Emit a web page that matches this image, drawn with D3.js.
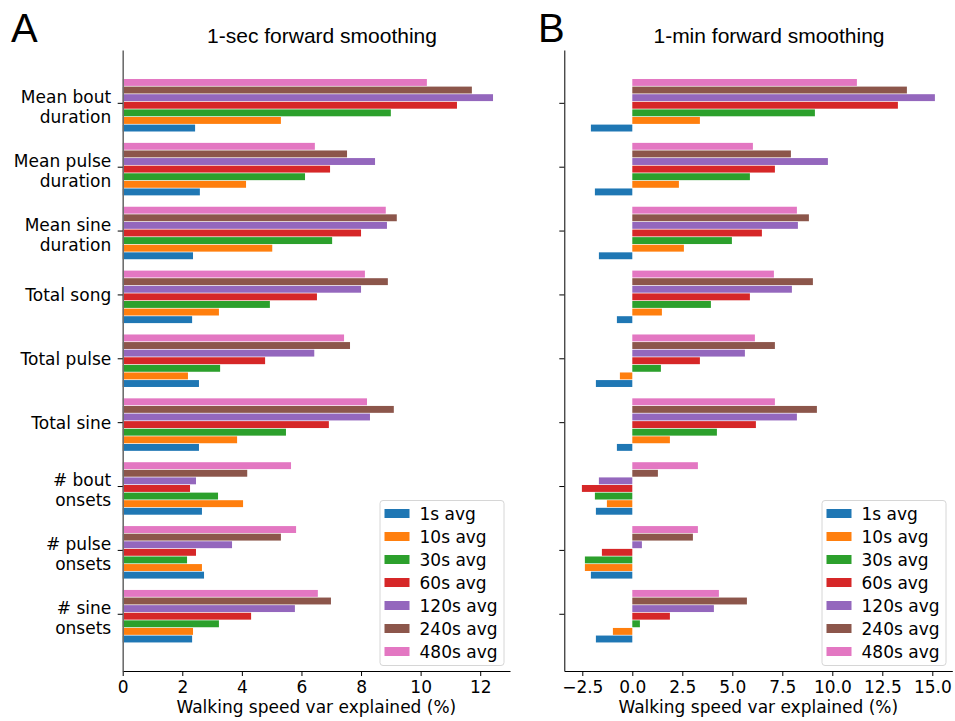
<!DOCTYPE html>
<html>
<head>
<meta charset="utf-8">
<script src="https://cdn.jsdelivr.net/npm/d3@7"></script>
<style>
  body { margin: 0; background: #fff; }
  svg { display: block; font-family: "DejaVu Sans", sans-serif; }
  .title, .letter { font-family: "Liberation Sans", Arial, sans-serif; }
</style>
</head>
<body>
<div class="container"></div>
<script>
// DATA
// categories, top to bottom
const categories = [
  "Mean bout\nduration", "Mean pulse\nduration", "Mean sine\nduration",
  "Total song", "Total pulse", "Total sine",
  "# bout\nonsets", "# pulse\nonsets", "# sine\nonsets"
];

const seriesNames = ["1s avg", "10s avg", "30s avg", "60s avg", "120s avg", "240s avg", "480s avg"];
const seriesColors = ["#1f77b4", "#ff7f0e", "#2ca02c", "#d62728", "#9467bd", "#8c564b", "#e377c2"];

// 1-sec forward smoothing, one row per series (same order as seriesNames)
const secValues = [
  [2.43, 2.59, 2.36, 2.33, 2.56, 2.56, 2.66, 2.73, 2.33],
  [5.31, 4.14, 5.02, 3.23, 2.19, 3.84, 4.04, 2.66, 2.36],
  [9.00, 6.12, 7.03, 4.94, 3.27, 5.48, 3.20, 2.16, 3.23],
  [11.22, 6.96, 8.00, 6.52, 4.78, 6.92, 2.26, 2.46, 4.31],
  [12.43, 8.47, 8.87, 8.00, 6.43, 8.30, 2.46, 3.67, 5.78],
  [11.72, 7.53, 9.20, 8.90, 7.63, 9.10, 4.18, 5.31, 6.99],
  [10.21, 6.45, 8.83, 8.13, 7.43, 8.20, 5.65, 5.82, 6.55]
];

// 1-min forward smoothing
const minValues = [
  [-2.07, -1.87, -1.67, -0.77, -1.82, -0.77, -1.82, -2.07, -1.82],
  [3.38, 2.33, 2.58, 1.48, -0.62, 1.88, -1.27, -2.37, -0.97],
  [9.13, 5.88, 4.98, 3.93, 1.43, 4.23, -1.87, -2.37, 0.38],
  [13.28, 7.13, 6.48, 5.88, 3.38, 6.18, -2.52, -1.52, 1.88],
  [15.13, 9.78, 8.28, 7.98, 5.63, 8.23, -1.67, 0.48, 4.08],
  [13.73, 7.93, 8.83, 9.03, 7.13, 9.23, 1.28, 3.03, 5.73],
  [11.23, 6.03, 8.23, 7.08, 6.13, 7.13, 3.28, 3.28, 4.33]
];

const secTicks = [0, 2, 4, 6, 8, 10, 12];
const minTicks = [-2.5, 0, 2.5, 5, 7.5, 10, 12.5, 15];

// FRAME
const width = 955, height = 721;
const plotTop = 50, plotBottom = 671;
const fontSize = 17;

const svg = d3.select(".container")
  .append("svg")
  .attr("width", width)
  .attr("height", height);

// shared vertical scale: category index, with matplotlib style margins
const yScale = d3.scaleLinear()
  .domain([-0.827, 8.896])
  .range([plotTop, plotBottom]);

// bar offset inside the group (1s at bottom, 480s at top)
const barStep = 0.119, barH = 0.108;
const offset = j => 0.395 - barStep * j;

function drawPanel(opts) {
  const xScale = d3.scaleLinear()
    .domain(opts.domain)
    .range([opts.left, opts.right]);

  const g = svg.append("g");

  // bars
  opts.values.forEach((row, j) => {
    g.append("g")
      .selectAll("rect")
      .data(row)
      .enter()
      .append("rect")
      .attr("x", d => xScale(Math.min(0, d)))
      .attr("width", d => Math.abs(xScale(d) - xScale(0)))
      .attr("y", (d, i) => yScale(i + offset(j) - barH / 2))
      .attr("height", yScale(barH) - yScale(0))
      .attr("fill", seriesColors[j]);
  });

  // x axis
  const xAxis = g.append("g")
    .attr("transform", `translate(0, ${plotBottom})`)
    .call(d3.axisBottom(xScale)
      .tickValues(opts.ticks)
      .tickFormat(opts.format)
      .tickSize(5)
      .tickPadding(4.5)
      .tickSizeOuter(0));
  xAxis.select(".domain").attr("stroke", "#000").attr("stroke-width", 1);
  xAxis.selectAll("text").attr("font-size", fontSize).attr("font-family", "DejaVu Sans").attr("fill", "#000");

  // y axis
  const yAxis = g.append("g")
    .attr("transform", `translate(${opts.left}, 0)`)
    .call(d3.axisLeft(yScale)
      .tickValues(d3.range(categories.length))
      .tickFormat(i => opts.labels ? categories[i] : "")
      .tickSize(5)
      .tickPadding(6.5)
      .tickSizeOuter(0));
  yAxis.select(".domain").attr("stroke", opts.spine).attr("stroke-width", opts.spineWidth);

  if (opts.labels) {
    yAxis.selectAll(".tick text")
      .attr("font-size", fontSize)
      .attr("font-family", "DejaVu Sans")
      .attr("fill", "#000")
      .attr("dy", null)
      .each(function(i) {
        const lines = categories[i].split("\n");
        const t = d3.select(this).text(null);
        if (lines.length === 1) {
          t.append("tspan").attr("x", -11.5).attr("y", 6).text(lines[0]);
        } else {
          t.append("tspan").attr("x", -11.5).attr("y", -0.5).text(lines[0]);
          t.append("tspan").attr("x", -11.5).attr("y", 19.5).text(lines[1]);
        }
      });
  }

  // title
  svg.append("text")
    .attr("class", "title")
    .attr("x", opts.titleX)
    .attr("y", 43)
    .attr("text-anchor", "middle")
    .attr("font-size", 21)
    .text(opts.title);

  // panel letter
  svg.append("text")
    .attr("class", "letter")
    .attr("x", opts.letterX)
    .attr("y", 42)
    .attr("font-size", 40)
    .text(opts.letter);

  // x label
  svg.append("text")
    .attr("x", (opts.left + opts.right) / 2)
    .attr("y", 713)
    .attr("text-anchor", "middle")
    .attr("font-size", fontSize)
    .text("Walking speed var explained (%)");

  // LEGEND
  const legend = svg.append("g")
    .attr("transform", `translate(${opts.legendX}, 500)`);

  legend.append("rect")
    .attr("x", 0.5)
    .attr("y", 0.5)
    .attr("width", 124)
    .attr("height", 165)
    .attr("rx", 3)
    .attr("fill", "rgba(255,255,255,0.8)")
    .attr("stroke", "#d6d6d6");

  const rows = legend.selectAll("g.row")
    .data(seriesNames)
    .enter()
    .append("g")
    .attr("class", "row")
    .attr("transform", (d, i) => `translate(0, ${13.5 + i * 23})`);

  rows.append("rect")
    .attr("x", 5)
    .attr("y", -4.5)
    .attr("width", 25)
    .attr("height", 9)
    .attr("fill", (d, i) => seriesColors[i]);

  rows.append("text")
    .attr("x", 40)
    .attr("y", 6.2)
    .attr("font-size", fontSize)
    .text(d => d);
}

drawPanel({
  values: secValues,
  domain: [0, 13],
  left: 122.7,
  right: 510,
  ticks: secTicks,
  format: d3.format("d"),
  labels: true,
  spine: "#6e6e6e",
  spineWidth: 1.6,
  title: "1-sec forward smoothing",
  titleX: 322,
  letter: "A",
  letterX: 11,
  legendX: 379.5
});

drawPanel({
  values: minValues,
  domain: [-3.4, 16.0],
  left: 564.3,
  right: 952.3,
  ticks: minTicks,
  format: d => d3.format(".1f")(d).replace("-", "\u2212"),
  labels: false,
  spine: "#000",
  spineWidth: 1,
  title: "1-min forward smoothing",
  titleX: 769,
  letter: "B",
  letterX: 538,
  legendX: 821.5
});
</script>
</body>
</html>
